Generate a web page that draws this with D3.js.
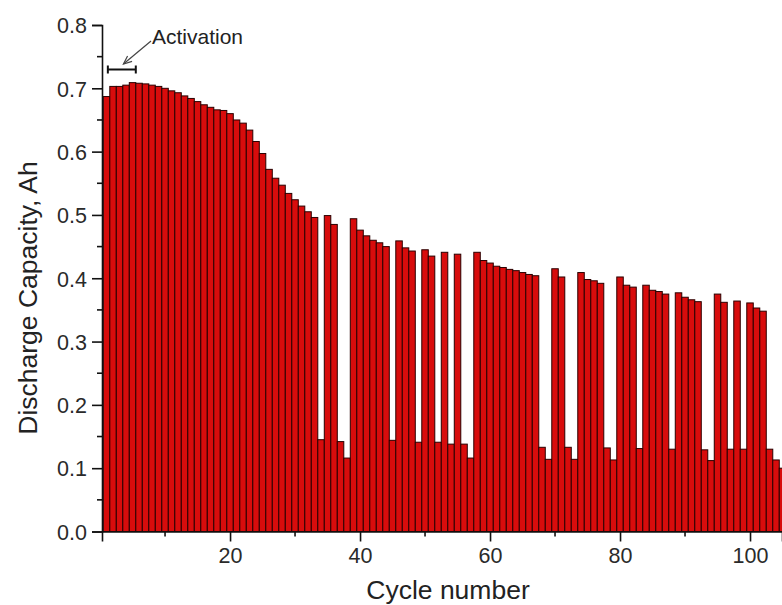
<!DOCTYPE html>
<html>
<head>
<meta charset="utf-8">
<script src="https://cdn.jsdelivr.net/npm/d3@7"></script>
<style>
  html, body { margin: 0; padding: 0; background: #fff; }
  svg { display: block; font-family: "Liberation Sans", Arial, sans-serif; }
</style>
</head>
<body>
<svg id="chart" width="782" height="605"></svg>
<script>
// Cycle numbers 1..105
const cycles = [
  1,2,3,4,5,6,7,8,9,10,11,12,13,14,15,16,17,18,19,20,
  21,22,23,24,25,26,27,28,29,30,31,32,33,34,35,36,37,38,39,40,
  41,42,43,44,45,46,47,48,49,50,51,52,53,54,55,56,57,58,59,60,
  61,62,63,64,65,66,67,68,69,70,71,72,73,74,75,76,77,78,79,80,
  81,82,83,84,85,86,87,88,89,90,91,92,93,94,95,96,97,98,99,100,
  101,102,103,104,105
];
// Discharge capacity, Ah
const capacity = [
  0.687,0.703,0.703,0.705,0.709,0.708,0.707,0.705,0.703,0.700,
  0.696,0.693,0.688,0.684,0.679,0.674,0.670,0.666,0.665,0.660,
  0.650,0.645,0.634,0.616,0.597,0.572,0.558,0.547,0.534,0.524,
  0.514,0.505,0.496,0.145,0.499,0.485,0.142,0.116,0.494,0.476,
  0.467,0.460,0.456,0.450,0.144,0.459,0.448,0.443,0.141,0.445,
  0.435,0.141,0.441,0.138,0.438,0.138,0.116,0.441,0.428,0.424,
  0.419,0.417,0.414,0.412,0.409,0.406,0.404,0.133,0.114,0.415,
  0.402,0.133,0.114,0.409,0.398,0.396,0.392,0.132,0.113,0.402,
  0.389,0.386,0.131,0.389,0.381,0.379,0.375,0.130,0.377,0.370,
  0.366,0.363,0.129,0.112,0.375,0.362,0.130,0.364,0.130,0.361,
  0.353,0.348,0.130,0.113,0.100
];
const xMajorTicks = [20, 40, 60, 80, 100];
const xMinorTicks = [10, 30, 50, 70, 90];
const yMajorTicks = [0.0, 0.1, 0.2, 0.3, 0.4, 0.5, 0.6, 0.7, 0.8];
const yMinorTicks = [0.05, 0.15, 0.25, 0.35, 0.45, 0.55, 0.65, 0.75];
const xTitle = "Cycle number";
const yTitle = "Discharge Capacity, Ah";
const annotationText = "Activation";
const activationRange = [1.2, 5.5];

(function () {
const svg = d3.select("#chart");
const plotLeft = 102, plotRight = 782, plotTop = 25, plotBottom = 531.5;

const x = d3.scaleLinear().domain([0.3, 104.92]).range([plotLeft, plotRight]);
const y = d3.scaleLinear().domain([0, 0.8]).range([plotBottom, plotTop]);

const data = cycles.map((c, i) => ({ c, v: capacity[i] }));

// bars
svg.append("g")
  .selectAll("rect")
  .data(data)
  .join("rect")
  .attr("x", d => x(d.c - 0.5))
  .attr("width", d => x(d.c + 0.5) - x(d.c - 0.5))
  .attr("y", d => y(d.v))
  .attr("height", d => y(0) - y(d.v))
  .attr("fill", "#d80c0c")
  .attr("stroke", "#2a0000")
  .attr("stroke-width", 1);

// y axis
const yAxis = svg.append("g").attr("transform", `translate(${plotLeft},0)`);
yAxis.call(d3.axisLeft(y).tickValues(yMajorTicks).tickFormat(d3.format(".1f")).tickSize(10).tickPadding(5))
  .call(g => g.select(".domain").attr("stroke", "#111").attr("stroke-width", 1.6))
  .call(g => g.selectAll(".tick line").attr("stroke", "#111").attr("stroke-width", 1.6))
  .call(g => g.selectAll(".tick text").attr("font-size", 21.5).attr("fill", "#2a2a2a").attr("font-family", "Liberation Sans, Arial, sans-serif").attr("dy", "0.36em"));
yAxis.selectAll(".minor")
  .data(yMinorTicks)
  .join("line")
  .attr("class", "minor")
  .attr("x1", 0).attr("x2", -5)
  .attr("y1", d => y(d)).attr("y2", d => y(d))
  .attr("stroke", "#111").attr("stroke-width", 1.6);

// x axis
const xAxis = svg.append("g").attr("transform", `translate(0,${plotBottom})`);
xAxis.call(d3.axisBottom(x).tickValues(xMajorTicks).tickFormat(d3.format("d")).tickSize(10).tickPadding(6))
  .call(g => g.select(".domain").attr("stroke", "#111").attr("stroke-width", 1.6))
  .call(g => g.selectAll(".tick line").attr("stroke", "#111").attr("stroke-width", 1.6))
  .call(g => g.selectAll(".tick text").attr("font-size", 21.5).attr("fill", "#2a2a2a").attr("font-family", "Liberation Sans, Arial, sans-serif"));
xAxis.selectAll(".minor")
  .data(xMinorTicks)
  .join("line")
  .attr("class", "minor")
  .attr("y1", 0).attr("y2", 5)
  .attr("x1", d => x(d)).attr("x2", d => x(d))
  .attr("stroke", "#111").attr("stroke-width", 1.6);

// titles
svg.append("text")
  .attr("x", 448)
  .attr("y", 599)
  .attr("text-anchor", "middle")
  .attr("font-size", 26.5)
  .attr("fill", "#222")
  .text(xTitle);

svg.append("text")
  .attr("transform", "translate(37,298) rotate(-90)")
  .attr("text-anchor", "middle")
  .attr("font-size", 26.5)
  .attr("fill", "#222")
  .text(yTitle);

// activation annotation
const by = 69.5;
const bx1 = x(activationRange[0]), bx2 = x(activationRange[1]);
const ann = svg.append("g").attr("stroke", "#111").attr("stroke-width", 2);
ann.append("line").attr("x1", bx1).attr("x2", bx2).attr("y1", by).attr("y2", by);
ann.append("line").attr("x1", bx1).attr("x2", bx1).attr("y1", by - 4).attr("y2", by + 4);
ann.append("line").attr("x1", bx2).attr("x2", bx2).attr("y1", by - 4).attr("y2", by + 4);

// arrow
const tip = [x(3.6), 64];
const tail = [151, 41];
svg.append("line")
  .attr("x1", tail[0]).attr("y1", tail[1])
  .attr("x2", tip[0]).attr("y2", tip[1])
  .attr("stroke", "#444").attr("stroke-width", 1.2);
const ang = Math.atan2(tail[1] - tip[1], tail[0] - tip[0]);
const hl = 9, ha = 0.4;
svg.append("path")
  .attr("d", `M${tip[0] + hl * Math.cos(ang + ha)},${tip[1] + hl * Math.sin(ang + ha)} L${tip[0]},${tip[1]} L${tip[0] + hl * Math.cos(ang - ha)},${tip[1] + hl * Math.sin(ang - ha)}`)
  .attr("fill", "none").attr("stroke", "#444").attr("stroke-width", 1.2);

svg.append("text")
  .attr("x", 152)
  .attr("y", 43.5)
  .attr("font-size", 21)
  .attr("fill", "#222")
  .text(annotationText);
})();
</script>
</body>
</html>
